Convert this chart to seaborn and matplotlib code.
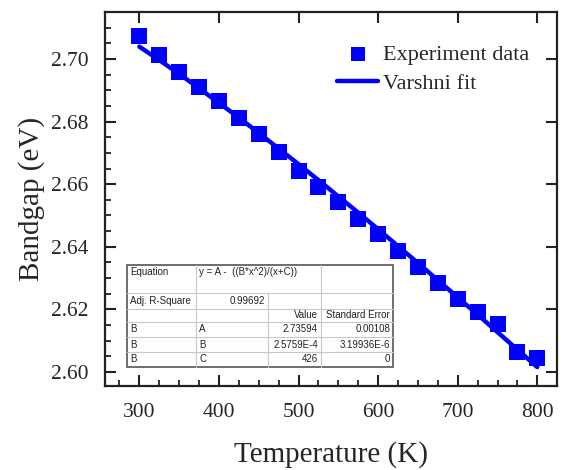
import numpy as np
import pandas as pd
import matplotlib
matplotlib.use("Agg")
import matplotlib.pyplot as plt
from matplotlib.ticker import MultipleLocator
import seaborn as sns

temperature = [300, 325, 350, 375, 400, 425, 450, 475, 500, 525, 550,
               575, 600, 625, 650, 675, 700, 725, 750, 775, 800]
bandgap_exp = [2.7073, 2.7013, 2.6958, 2.6911, 2.6866, 2.6812, 2.6760,
               2.6703, 2.6642, 2.6591, 2.6543, 2.6489, 2.6441, 2.6387,
               2.6335, 2.6284, 2.6233, 2.6192, 2.6153, 2.6064, 2.6045]
bandgap_fit = [2.7040, 2.6997, 2.6953, 2.6907, 2.6860, 2.6813, 2.6764,
               2.6714, 2.6664, 2.6613, 2.6561, 2.6509, 2.6456, 2.6402,
               2.6348, 2.6293, 2.6238, 2.6183, 2.6127, 2.6071, 2.6015]

table_rows = [
    ["Equation", "y = A -  ((B*x^2)/(x+C))", "", ""],
    ["Adj. R-Square", "0.99692", "", ""],
    ["", "", "Value", "Standard Error"],
    ["B", "A", "2.73594", "0.00108"],
    ["B", "B", "2.5759E-4", "3.19936E-6"],
    ["B", "C", "426", "0"],
]

df = pd.DataFrame({"T": temperature, "Eg": bandgap_exp, "fit": bandgap_fit})

sns.set_style("ticks")
plt.rcParams["font.family"] = ["Liberation Serif", "DejaVu Serif"]

fig = plt.figure(figsize=(5.68, 4.70), dpi=100)
ax = fig.add_axes([0.185, 0.179, 0.796, 0.795])

sns.lineplot(data=df, x="T", y="fit", ax=ax, color="#0000ff", lw=3.2,
             label="Varshni fit", zorder=2)
sns.scatterplot(data=df, x="T", y="Eg", ax=ax, marker="s", s=130,
                color="#0000ff", edgecolor="#0000ff", linewidth=0,
                label="Experiment data", zorder=3)

ax.set_xlim(257, 825)
ax.set_ylim(2.5955, 2.715)
ax.xaxis.set_major_locator(MultipleLocator(100))
ax.xaxis.set_minor_locator(MultipleLocator(25))
ax.yaxis.set_major_locator(MultipleLocator(0.02))
ax.yaxis.set_minor_locator(MultipleLocator(0.005))
ax.yaxis.set_major_formatter(matplotlib.ticker.FormatStrFormatter("%.2f"))

for s in ax.spines.values():
    s.set_linewidth(1.6)
    s.set_color("#222222")
ax.tick_params(which="major", direction="in", length=8, width=1.5,
               labelsize=15.5, top=True, right=True, pad=12, color="#222222")
ax.tick_params(which="minor", direction="in", length=4, width=1.3,
               color="#222222")
ax.set_xlabel("Temperature (K)", fontsize=21, labelpad=14)
ax.set_ylabel("Bandgap (eV)", fontsize=21, labelpad=4)

h, l = ax.get_legend_handles_labels()
leg = ax.legend(h[::-1], l[::-1], loc="upper left", frameon=False,
                fontsize=16, bbox_to_anchor=(0.513, 0.915),
                handlelength=1.85, handletextpad=0.2, labelspacing=0.38,
                borderaxespad=0, borderpad=0, markerscale=0.85)

# fit result table (pixel geometry of the reference)
W, H = 568, 470
col_x = [127, 196, 268, 321, 393]
row_y = [265, 293, 309, 322, 337, 352, 367]
tab = fig.add_axes([0, 0, 1, 1], facecolor="none")
tab.set_xlim(0, W)
tab.set_ylim(H, 0)
tab.axis("off")
tab.add_patch(plt.Rectangle((col_x[0], row_y[0]), col_x[-1] - col_x[0],
                            row_y[-1] - row_y[0], facecolor="white",
                            edgecolor="#555555", lw=1.2, zorder=1))
for y in row_y[1:-1]:
    tab.plot([col_x[0], col_x[-1]], [y, y], color="#c8c8c8", lw=0.8, zorder=2)
for i, x in enumerate(col_x[1:-1], start=1):
    if i == 2:
        tab.plot([x, x], [row_y[1], row_y[-1]], color="#c8c8c8", lw=0.8, zorder=2)
    else:
        tab.plot([x, x], [row_y[0], row_y[-1]], color="#c8c8c8", lw=0.8, zorder=2)

for r, row in enumerate(table_rows):
    for c, txt in enumerate(row):
        if not txt:
            continue
        x0, x1 = col_x[c], col_x[c + 1]
        y0, y1 = row_y[r], row_y[r + 1]
        yc = y0 + 7 if r == 0 else (y0 + y1) / 2
        right = (r == 1 and c == 1) or (r >= 2 and c >= 2)
        if right:
            tab.text(x1 - 3, yc, txt, ha="right", va="center", fontsize=7,
                     family="Liberation Sans", color="#222222", zorder=3)
        else:
            tab.text(x0 + 3, yc, txt, ha="left", va="center", fontsize=7,
                     family="Liberation Sans", color="#222222", zorder=3)

fig.savefig("out.png", dpi=100)
